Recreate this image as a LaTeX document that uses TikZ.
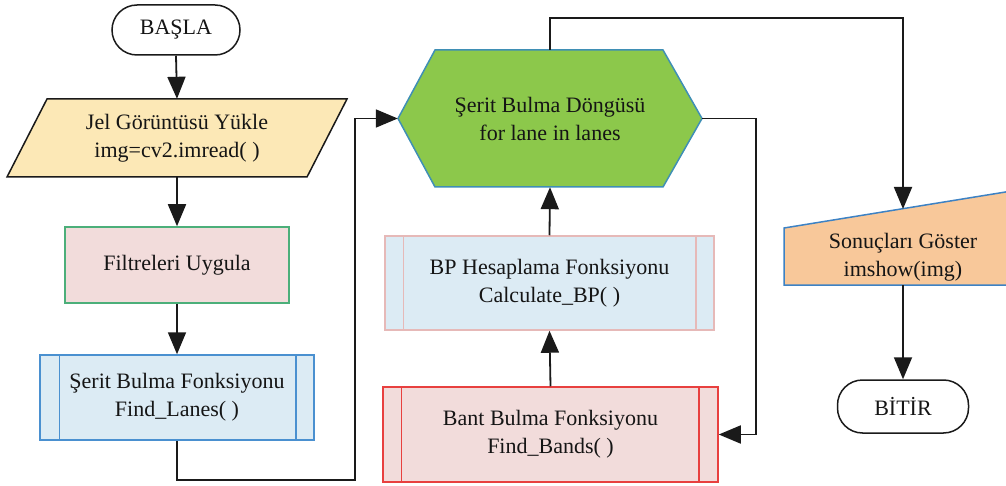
\documentclass[tikz,border=0pt]{standalone}
\usepackage{fontspec}
\setmainfont{Liberation Serif}
\newfontfamily\tnr{Liberation Serif}
\usetikzlibrary{arrows.meta,calc}
\definecolor{lin}{HTML}{1A1A1A}
\definecolor{txt}{HTML}{151515}
\definecolor{yelfill}{HTML}{FCE8B6}
\definecolor{pinkfill}{HTML}{F2DCDB}
\definecolor{greenbd}{HTML}{4CAF7A}
\definecolor{bluefill}{HTML}{DCEBF4}
\definecolor{bluebd}{HTML}{4A90D0}
\definecolor{hexfill}{HTML}{8CC84B}
\definecolor{hexbd}{HTML}{3F8FB5}
\definecolor{pinkbd}{HTML}{E6B9B8}
\definecolor{redbd}{HTML}{E8403F}
\definecolor{orfill}{HTML}{F8C89A}
\definecolor{orbd}{HTML}{3D82C4}
\tikzset{
  base/.style={inner sep=0pt, align=center, font=\tnr\fontsize{22}{28}\selectfont, text=txt},
  term/.style={base, draw=lin, line width=1.5pt, fill=white, rounded corners=25pt},
  procbox/.style={base, line width=1.5pt},
  conn/.style={line width=1.8pt, draw=lin},
  arr/.style={conn, -{Triangle[length=22pt,width=18pt]}},
}
\begin{document}
\begin{tikzpicture}[x=1pt,y=-1pt]
\useasboundingbox (0,0) rectangle (1006,486);
\clip (0,0) rectangle (1006,486);
% start
\node[term, minimum width=128pt, minimum height=50pt] (start) at (176,30) {BAŞLA};
% input parallelogram
\filldraw[fill=yelfill, draw=lin, line width=1.5pt] (47,99) -- (347,99) -- (307,177) -- (7,177) -- cycle;
\node[base, minimum width=340pt, minimum height=78pt] (in) at (177,138) {Jel Görüntüsü Yükle\\img=cv2.imread( )};
% filters
\node[procbox, draw=greenbd, fill=pinkfill, minimum width=224pt, minimum height=76pt] (filt) at (177,265) {Filtreleri Uygula};
% find lanes
\node[procbox, draw=bluebd, fill=bluefill, minimum width=274pt, minimum height=85pt] (lanes) at (177,397.5) {Şerit Bulma Fonksiyonu\\Find\_Lanes( )};
\draw[bluebd, line width=1.5pt] ($(lanes.north west)+(20,0)$) -- ($(lanes.south west)+(20,0)$);
\draw[bluebd, line width=1.5pt] ($(lanes.north east)+(-19,0)$) -- ($(lanes.south east)+(-19,0)$);
% hexagon loop
\filldraw[fill=hexfill, draw=hexbd, line width=1.5pt] (398,118.5) -- (435,50) -- (663,50) -- (702,118.5) -- (663,187) -- (435,187) -- cycle;
\node[base, minimum width=304pt, minimum height=137pt] (hex) at (550,118.5) {Şerit Bulma Döngüsü\\for lane in lanes};
% BP
\node[procbox, draw=pinkbd, fill=bluefill, minimum width=329pt, minimum height=94pt] (bp) at (549.5,283) {BP Hesaplama Fonksiyonu\\Calculate\_BP( )};
\draw[pinkbd, line width=1.5pt] ($(bp.north west)+(19,0)$) -- ($(bp.south west)+(19,0)$);
\draw[pinkbd, line width=1.5pt] ($(bp.north east)+(-19,0)$) -- ($(bp.south east)+(-19,0)$);
% bands
\node[procbox, draw=redbd, fill=pinkfill, minimum width=335pt, minimum height=95pt] (bant) at (550.5,434.5) {Bant Bulma Fonksiyonu\\Find\_Bands( )};
\draw[redbd, line width=1.5pt] ($(bant.north west)+(19,0)$) -- ($(bant.south west)+(19,0)$);
\draw[redbd, line width=1.5pt] ($(bant.north east)+(-20,0)$) -- ($(bant.south east)+(-20,0)$);
% show results (manual input)
\filldraw[fill=orfill, draw=orbd, line width=1.5pt] (784,228) -- (1024,189) -- (1024,285) -- (784,285) -- cycle;
\node[base, minimum width=238pt, minimum height=56pt] (show) at (903,257) {Sonuçları Göster\\imshow(img)};
\coordinate (showtop) at (903,209);
% end
\node[term, minimum width=131pt, minimum height=53pt] (end) at (903,406.5) {BİTİR};
% connectors
\draw[arr] (start.south) -- (in.north);
\draw[arr] (in.south) -- (filt.north);
\draw[arr] (filt.south) -- (lanes.north);
\coordinate (c1) at (355,480);
\draw[arr] (lanes.south) |- (c1) |- (hex.west);
\coordinate (c2) at (903,18);
\draw[arr] (hex.north) |- (c2) -- (showtop);
\coordinate (c3) at (756,434.5);
\draw[arr] (hex.east) -| (c3) -- (bant.east);
\draw[arr] (bant.north) -- (bp.south);
\draw[arr] (bp.north) -- (hex.south);
\draw[arr] (show.south) -- (end.north);
\end{tikzpicture}
\end{document}
